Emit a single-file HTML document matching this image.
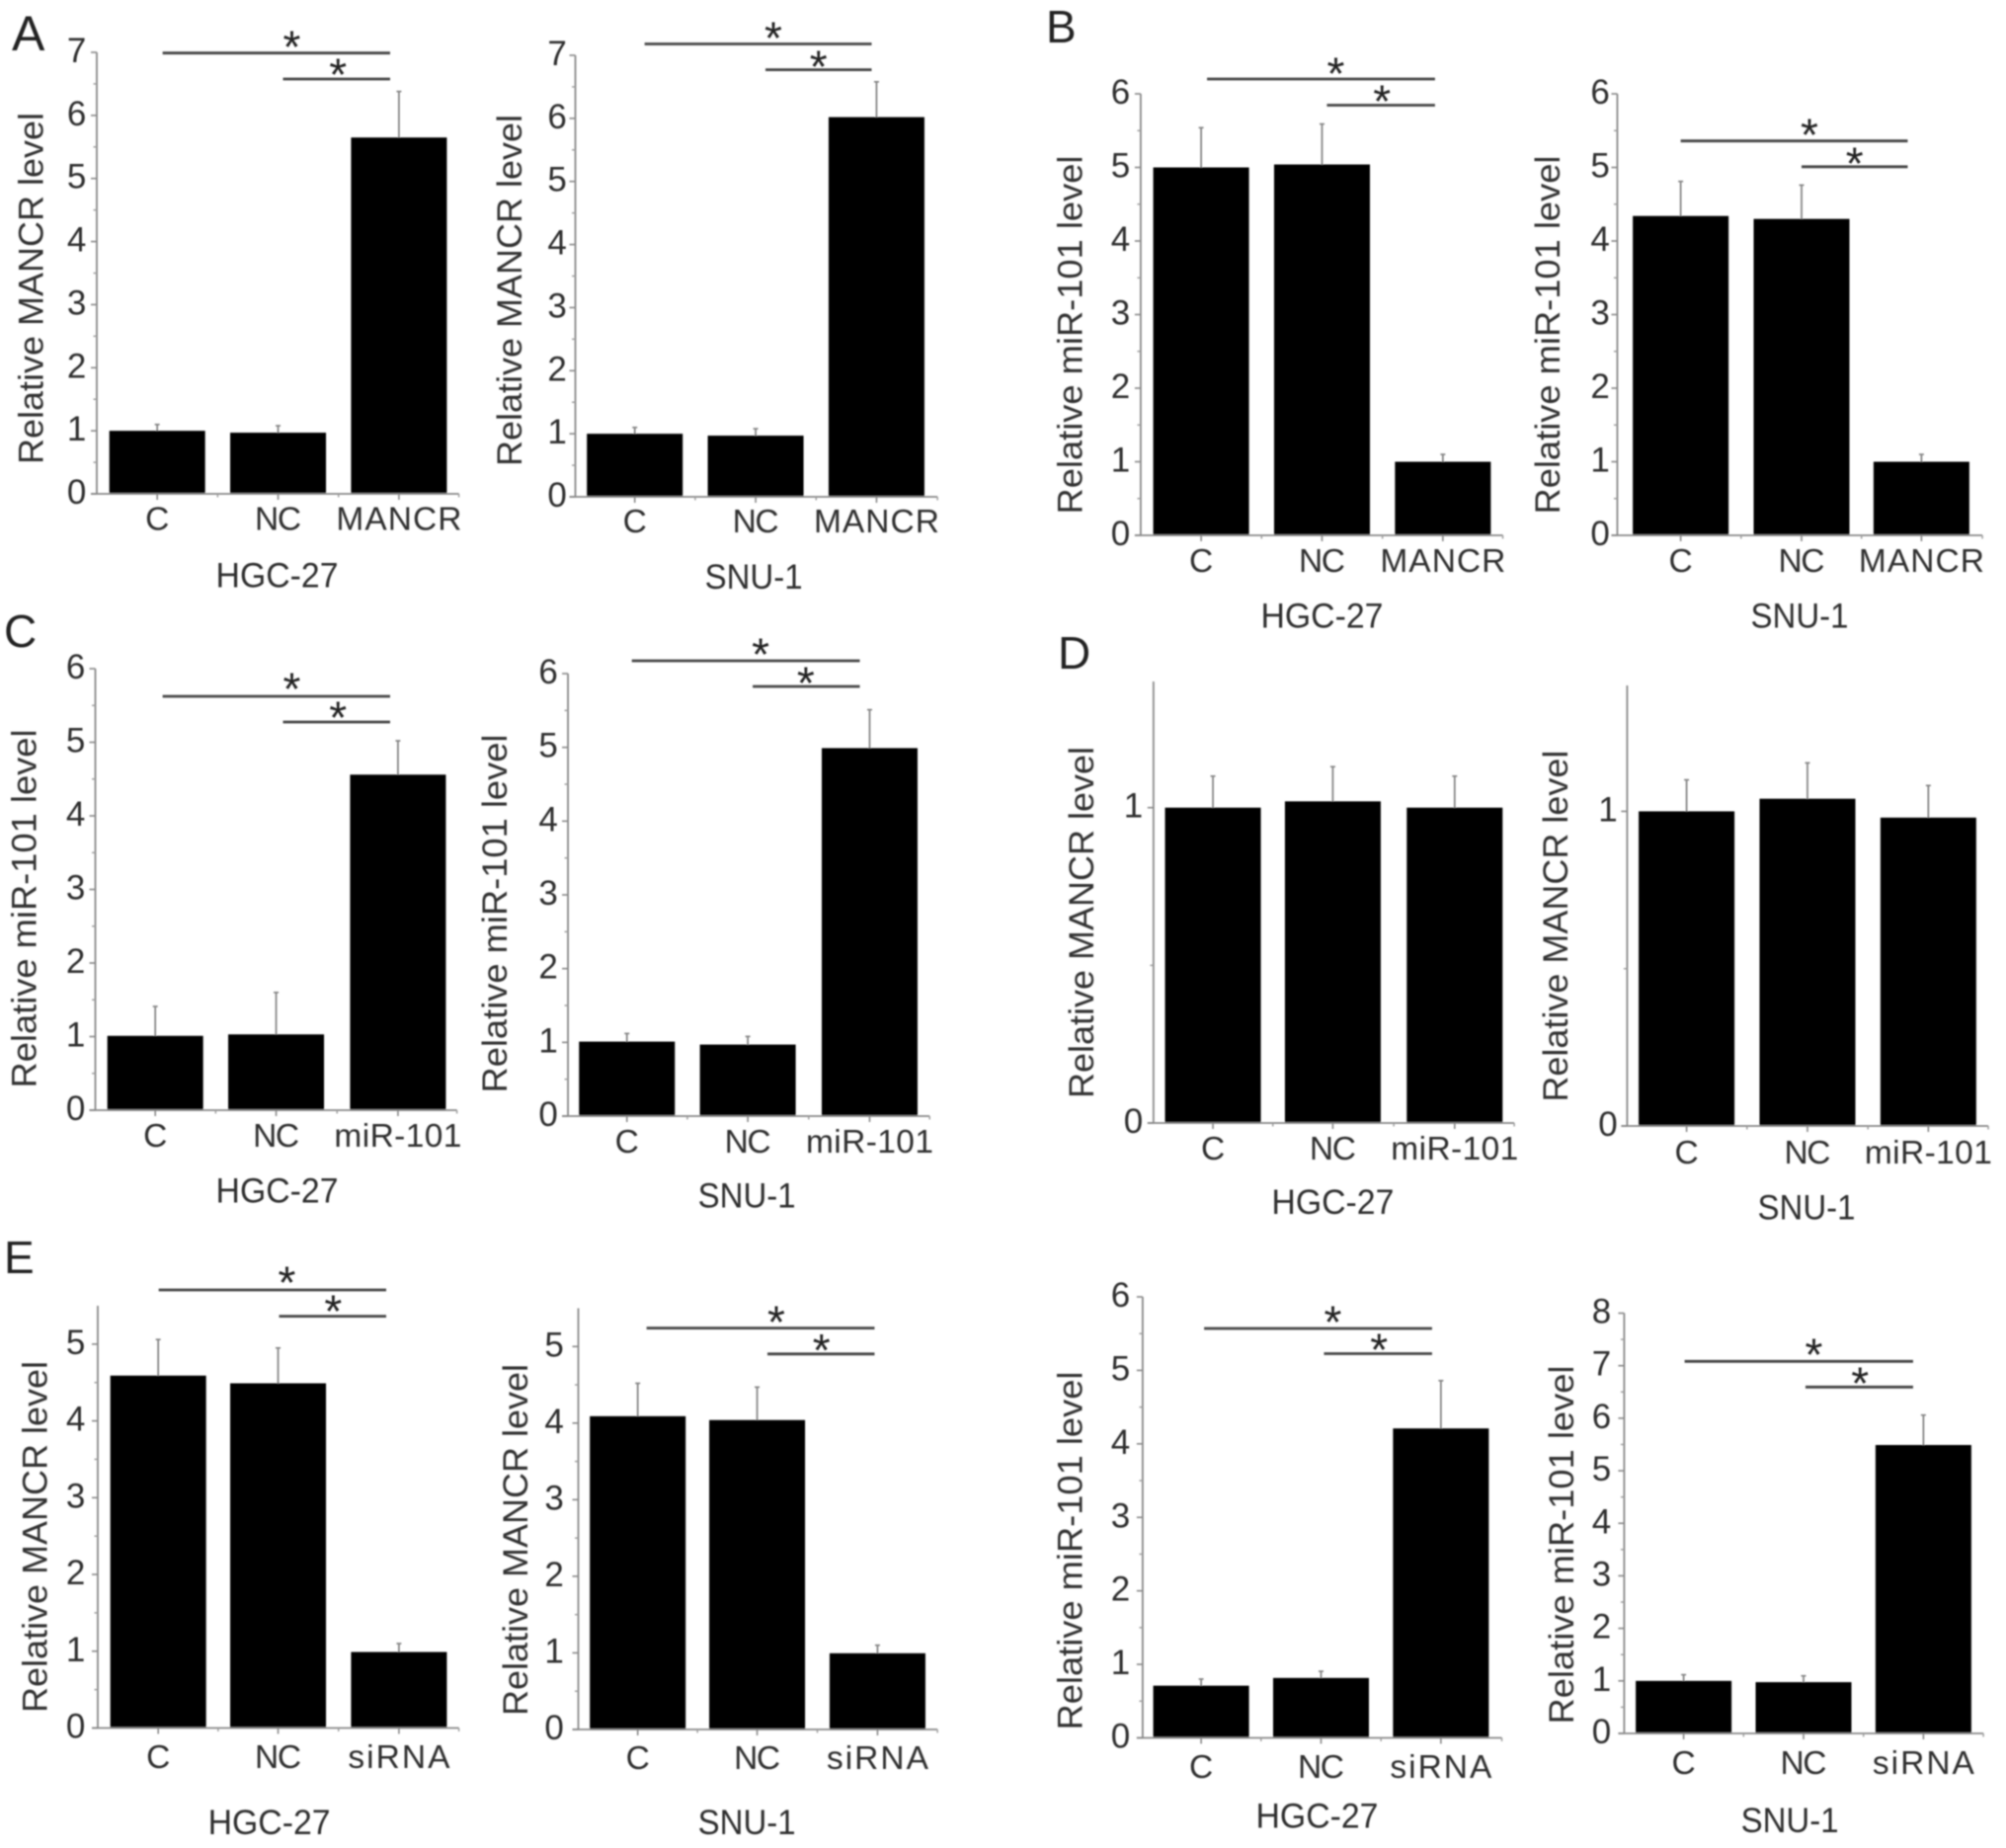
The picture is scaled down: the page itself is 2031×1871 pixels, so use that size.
<!DOCTYPE html>
<html lang="en">
<head>
<meta charset="utf-8">
<title>MANCR and miR-101 relative expression panels</title>
<style>
html,body{margin:0;padding:0;background:#fff;}
svg{display:block;}
text{font-family:"Liberation Sans",Arial,sans-serif;}
</style>
</head>
<body>
<svg id="figure" xmlns="http://www.w3.org/2000/svg" width="2031" height="1871" viewBox="0 0 2031 1871">
  <defs><filter id="soft" x="-1%" y="-1%" width="102%" height="102%"><feGaussianBlur stdDeviation="0.7"/></filter></defs>
  <rect width="2031" height="1871" fill="#fff"/>
  <g id="root" filter="url(#soft)">
    <text x="12" y="51" font-size="50" fill="#222">A</text>
    <text x="1059" y="43" font-size="46" fill="#222">B</text>
    <text x="4" y="655" font-size="46" fill="#222">C</text>
    <text x="1071" y="677" font-size="46" fill="#222">D</text>
    <text x="4" y="1289" font-size="46" fill="#222">E</text>
  </g>
</svg>
<script>
// ---- data ----
const catsMancr = ['C', 'NC', 'MANCR'];
const catsMir = ['C', 'NC', 'miR-101'];
const catsSi = ['C', 'NC', 'siRNA'];
const ticks5 = [0, 1, 2, 3, 4, 5];
const ticks6 = [0, 1, 2, 3, 4, 5, 6];
const ticks7 = [0, 1, 2, 3, 4, 5, 6, 7];
const ticks8 = [0, 1, 2, 3, 4, 5, 6, 7, 8];
const ticks1 = [0, 1];

const valuesA1 = [1.0, 0.97, 5.65];
const errorsA1 = [0.1, 0.11, 0.73];
const valuesA2 = [1.0, 0.97, 6.02];
const errorsA2 = [0.1, 0.11, 0.56];
const valuesB1 = [5.0, 5.04, 1.0];
const errorsB1 = [0.54, 0.55, 0.1];
const valuesB2 = [4.34, 4.3, 1.0];
const errorsB2 = [0.47, 0.46, 0.1];
const valuesC1 = [1.01, 1.03, 4.56];
const errorsC1 = [0.4, 0.57, 0.46];
const valuesC2 = [1.01, 0.97, 4.99];
const errorsC2 = [0.11, 0.11, 0.52];
const valuesD1 = [1.0, 1.02, 1.0];
const errorsD1 = [0.1, 0.11, 0.1];
const valuesD2 = [1.0, 1.04, 0.98];
const errorsD2 = [0.1, 0.114, 0.102];
const valuesE1 = [4.59, 4.49, 0.99];
const errorsE1 = [0.47, 0.46, 0.11];
const valuesE2 = [4.09, 4.04, 0.995];
const errorsE2 = [0.43, 0.43, 0.105];
const valuesF1 = [0.71, 0.815, 4.21];
const errorsF1 = [0.09, 0.091, 0.65];
const valuesF2 = [1.0, 0.976, 5.49];
const errorsF2 = [0.117, 0.12, 0.57];

const titleMancr = 'Relative MANCR level';
const titleMir = 'Relative miR-101 level';

// ---- layout (pixel geometry, separate from the data) ----
const panels = [
 {id:'a-hgc27',cats:catsMancr,vals:valuesA1,errs:errorsA1,ticks:ticks7,max:7,title:titleMancr,group:'HGC-27',ax:98.5,end:467,top:53,y0:500,cx:[160,283,406],tx:31,ty:292,dx:78,ly:524.5,gx:282,gy:582,br:[[165.5,397,53.7,297,38],[288,397,80,344,66]]},
 {id:'a-snu1',cats:catsMancr,vals:valuesA2,errs:errorsA2,ticks:ticks7,max:7,title:titleMancr,group:'SNU-1',ax:585.5,end:954,top:56,y0:503,cx:[646,769,892],tx:518,ty:294,dx:567,ly:527,gx:767,gy:583.5,br:[[656,887,44.5,787,29],[779,887,70.6,833,58]]},
 {id:'b-hgc27',cats:catsMancr,vals:valuesB1,errs:errorsB1,ticks:ticks6,max:6,title:titleMir,group:'HGC-27',ax:1155.5,end:1524,top:95,y0:542,cx:[1217,1340,1463],tx:1083,ty:339,dx:1135,ly:567,gx:1340,gy:623,br:[[1223,1455,80,1354,65],[1345,1455,106.5,1401,93]]},
 {id:'b-snu1',cats:catsMancr,vals:valuesB2,errs:errorsB2,ticks:ticks6,max:6,title:titleMir,group:'SNU-1',ax:1640.5,end:2012,top:95,y0:542,cx:[1705,1828,1950],tx:1569,ty:339,dx:1623,ly:567,gx:1826,gy:623,br:[[1705,1936,142.7,1836,127],[1828,1936,168.8,1882,156]]},
 {id:'c-hgc27',cats:catsMir,vals:valuesC1,errs:errorsC1,ticks:ticks6,max:6,title:titleMir,group:'HGC-27',ax:97,end:465,top:677,y0:1124,cx:[158,281,405],tx:24,ty:920,dx:77,ly:1149,gx:282,gy:1205,br:[[165.5,397,705,297,688],[288,397,731,344,717]]},
 {id:'c-snu1',cats:catsMir,vals:valuesC2,errs:errorsC2,ticks:ticks6,max:6,title:titleMir,group:'SNU-1',ax:578,end:946,top:682,y0:1130,cx:[638,761,885],tx:503,ty:925,dx:558,ly:1155,gx:760,gy:1210,br:[[643,875,669,774,653],[766,875,695,820,682]]},
 {id:'d-hgc27',cats:catsMir,vals:valuesD1,errs:errorsD1,ticks:ticks1,max:1.4,title:titleMancr,group:'HGC-27',ax:1168.5,end:1535.6,top:690,y0:1137,cx:[1229,1351,1475],tx:1095,ty:934,dx:1148,ly:1162,gx:1351,gy:1216.5,br:[]},
 {id:'d-snu1',cats:catsMir,vals:valuesD2,errs:errorsD2,ticks:ticks1,max:1.4,title:titleMancr,group:'SNU-1',ax:1650.5,end:2018,top:694,y0:1140,cx:[1711,1834,1957],tx:1577,ty:937.6,dx:1631,ly:1166,gx:1833,gy:1222,br:[]},
 {id:'e-hgc27',cats:catsSi,vals:valuesE1,errs:errorsE1,ticks:ticks5,max:5.5,title:titleMancr,group:'HGC-27',ax:99.5,end:467,top:1322,y0:1749.5,cx:[161,283,406],tx:35,ty:1556,dx:77,ly:1778,gx:274,gy:1844.5,br:[[161.5,393,1306,292,1289],[284,393,1332.6,339,1318]]},
 {id:'e-snu1',cats:catsSi,vals:valuesE2,errs:errorsE2,ticks:ticks5,max:5.5,title:titleMancr,group:'SNU-1',ax:588.5,end:954,top:1324.5,y0:1751,cx:[649,770.5,893],tx:524,ty:1559,dx:564,ly:1779,gx:760,gy:1844.5,br:[[658,890,1344.6,790,1329],[781,890,1370.8,836,1357.5]]},
 {id:'f-hgc27',cats:catsSi,vals:valuesF1,errs:errorsF1,ticks:ticks6,max:6,title:titleMir,group:'HGC-27',ax:1157.5,end:1523,top:1313,y0:1759.5,cx:[1217,1339,1461],tx:1083,ty:1570,dx:1135,ly:1788,gx:1335,gy:1838,br:[[1220,1452,1345,1351,1329],[1342,1452,1370.5,1398,1357]]},
 {id:'f-snu1',cats:catsSi,vals:valuesF2,errs:errorsF2,ticks:ticks8,max:8,title:titleMir,group:'SNU-1',ax:1647.5,end:2013,top:1329.5,y0:1755,cx:[1708,1830,1952],tx:1583,ty:1564,dx:1624.5,ly:1784,gx:1816,gy:1842.5,br:[[1709,1941.5,1378.3,1840.5,1362],[1832,1941.5,1404.3,1887.5,1391]]}
];

const labelWidths = {'C':23,'NC':47,'MANCR':127,'miR-101':129,'siRNA':103};
const groupWidths = {'HGC-27':124,'SNU-1':99};
const titleWidths = {};
titleWidths[titleMancr] = 356;
titleWidths[titleMir] = 363;
const BAR_W = 97;

const NS = 'http://www.w3.org/2000/svg';
const root = document.getElementById('root');

// horizontal calibration of the measured layout coordinates
function fx(x) {
  return x < 1020 ? x * 0.9949 : 1040 + (x - 1040) * 0.99494;
}
function make(parent, tag, props, txt) {
  const e = document.createElementNS(NS, tag);
  for (const k in props) e.setAttribute(k, props[k]);
  if (txt !== undefined) e.textContent = txt;
  parent.appendChild(e);
  return e;
}
function line(parent, x1, y1, x2, y2, color, w) {
  return make(parent, 'line', {x1: x1, y1: y1, x2: x2, y2: y2, stroke: color, 'stroke-width': w});
}
function yScale(p) {
  return function (v) { return p.y0 - v * (p.y0 - p.top) / p.max; };
}

panels.forEach(function (p) {
  const y = yScale(p);
  const ax = fx(p.ax), end = fx(p.end), tx = fx(p.tx) + 12.5;
  const g = make(root, 'g', {});
  
  

  // y axis
  const yAxis = make(g, 'g', {});
  
  
  line(yAxis, ax, p.top, ax, p.y0, '#888', 1.8);
  p.ticks.forEach(function (t, i) {
    line(yAxis, ax - 6, y(t), ax, y(t), '#888', 1.6);
    const lab = make(yAxis, 'text', {x: fx(p.dx), y: y(t) + 10, 'font-size': 35, 'text-anchor': 'middle', fill: '#2e2e2e'}, String(t));
    
    
    const mid = t + 0.5 * (i < p.ticks.length - 1 ? p.ticks[i + 1] - t : 1);
    if (mid < p.max) line(yAxis, ax - 3.5, y(mid), ax, y(mid), '#999', 1.4);
  });

  // title
  const title = make(g, 'text', {
    x: tx, y: p.ty, 'font-size': 35, 'text-anchor': 'middle', fill: '#333',
    transform: 'rotate(-90 ' + tx + ' ' + p.ty + ')',
    textLength: titleWidths[p.title], lengthAdjust: 'spacingAndGlyphs'
  }, p.title);
  
  

  // bars + error bars
  p.vals.forEach(function (v, i) {
    const cx = fx(p.cx[i]);
    const err = make(g, 'line', {x1: cx, y1: y(v), x2: cx, y2: y(v + p.errs[i]), stroke: '#808080', 'stroke-width': 1.7});
    
    
    line(g, cx - 2.5, y(v + p.errs[i]), cx + 2.5, y(v + p.errs[i]), '#808080', 1.6);
    const bar = make(g, 'rect', {x: cx - BAR_W / 2, y: y(v), width: BAR_W, height: p.y0 - y(v), fill: '#000'});
    
    
  });

  // x axis
  const xAxis = make(g, 'g', {});
  
  
  line(xAxis, ax - 6, p.y0, end, p.y0, '#888', 1.8);
  p.cats.forEach(function (c, i) {
    const cx = fx(p.cx[i]);
    line(xAxis, cx, p.y0, cx, p.y0 + 6, '#888', 1.6);
    if (i < 2) {
      const nx = fx(p.cx[i + 1]);
      line(xAxis, (cx + nx) / 2, p.y0, (cx + nx) / 2, p.y0 + 3.5, '#999', 1.4);
    }
    const lab = make(xAxis, 'text', {
      x: cx, y: p.ly + 12, 'font-size': 33.5, 'text-anchor': 'middle', fill: '#2e2e2e',
      textLength: labelWidths[c]
    }, c);
    
    
  });
  line(xAxis, end, p.y0, end, p.y0 + 3.5, '#999', 1.4);

  // cell-line label
  const grp = make(g, 'text', {
    x: fx(p.gx), y: p.gy + 12.5, 'font-size': 35, 'text-anchor': 'middle', fill: '#2e2e2e',
    textLength: groupWidths[p.group], lengthAdjust: 'spacingAndGlyphs'
  }, p.group);
  
  

  // significance brackets
  p.br.forEach(function (b) {
    const l = make(g, 'line', {x1: fx(b[0]), y1: b[2], x2: fx(b[1]), y2: b[2], stroke: '#444', 'stroke-width': 2.8});
    
    
    const s = make(g, 'text', {x: fx(b[3]), y: b[4] + 25.5, 'font-size': 46, 'text-anchor': 'middle', fill: '#222'}, '*');
    
    
  });
});
</script>
</body>
</html>
